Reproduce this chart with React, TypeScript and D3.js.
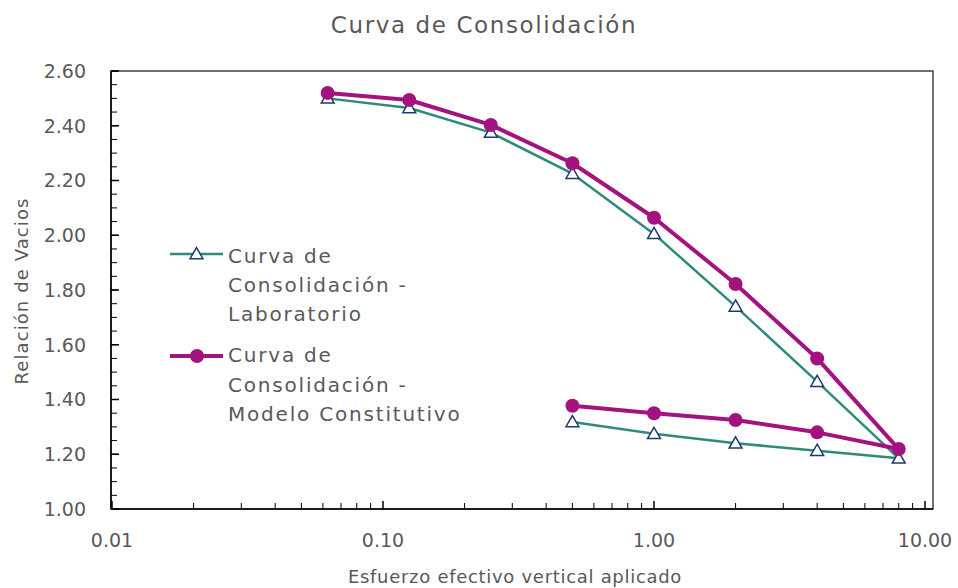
import React from 'react';
import * as d3 from 'd3';

const chartTitle = 'Curva de Consolidación';
const xAxisTitle = 'Esfuerzo efectivo vertical aplicado';
const yAxisTitle = 'Relación de Vacios';

const stressLoad = [0.0625, 0.125, 0.25, 0.5, 1, 2, 4, 8];
const stressUnload = [4, 2, 1, 0.5];
const labLoad = [2.5, 2.465, 2.375, 2.225, 2.005, 1.74, 1.465, 1.185];
const labUnload = [1.213, 1.24, 1.275, 1.318];
const modelLoad = [2.52, 2.494, 2.403, 2.263, 2.064, 1.822, 1.55, 1.219];
const modelUnload = [1.28, 1.325, 1.35, 1.377];

const xTickValues = [0.01, 0.1, 1, 10];
const yTickValues = [1.0, 1.2, 1.4, 1.6, 1.8, 2.0, 2.2, 2.4, 2.6];
const labLegend = ['Curva de', 'Consolidación -', 'Laboratorio'];
const modelLegend = ['Curva de', 'Consolidación -', 'Modelo Constitutivo'];

const W = 958;
const H = 588;
const left = 111;
const right = 933;
const top = 71;
const bottom = 509;

const TEAL = '#2E8B7B';
const MAGENTA = '#A4127F';
const NAVY = '#1F3A6E';
const TEXT = '#595959';
const FONT = '"DejaVu Sans", sans-serif';

export default function App() {
  const x = d3.scaleLog().domain([0.01, 10]).range([112, 925]);
  const y = d3.scaleLinear().domain([1.0, 2.6]).range([bottom, top]);

  const labPts = [
    ...stressLoad.map((s, i) => [s, labLoad[i]]),
    ...stressUnload.map((s, i) => [s, labUnload[i]]),
  ] as [number, number][];
  const modelPts = [
    ...stressLoad.map((s, i) => [s, modelLoad[i]]),
    ...stressUnload.map((s, i) => [s, modelUnload[i]]),
  ] as [number, number][];

  const line = d3
    .line<[number, number]>()
    .x((d) => x(d[0]))
    .y((d) => y(d[1]));

  const tri = d3.symbol().type(d3.symbolTriangle).size(72)();

  const xMinor: number[] = [];
  for (let dec = 0.01; dec < 10; dec *= 10) {
    for (let k = 2; k <= 9; k++) xMinor.push(+(dec * k).toPrecision(3));
  }
  const yMinor = d3.range(1.0, 2.6001, 0.05);

  return (
    <svg
      width={W}
      height={H}
      style={{ position: 'absolute', left: 0, top: 0, background: '#fff' }}
      fontFamily={FONT}
    >
      <rect x={0} y={0} width={W} height={H} fill="#fff" />
      <text x={484} y={33} textAnchor="middle" fontSize={23} fill={TEXT} letterSpacing={1.6}>
        {chartTitle}
      </text>

      <rect x={left} y={top} width={right - left} height={bottom - top} fill="none" stroke="#404040" strokeWidth={1.5} />

      {yMinor.map((v, i) => (
        <line key={'ym' + i} x1={left} x2={left + 6} y1={y(v)} y2={y(v)} stroke="#000" strokeWidth={1} />
      ))}
      {yTickValues.map((v) => (
        <g key={'yt' + v}>
          <line x1={left} x2={left + 8} y1={y(v)} y2={y(v)} stroke="#000" strokeWidth={1.5} />
          <text x={86} y={y(v)} dy="0.36em" textAnchor="end" fontSize={19} fill={TEXT}>
            {v.toFixed(2)}
          </text>
        </g>
      ))}

      {xMinor.map((v, i) => (
        <line key={'xm' + i} x1={x(v)} x2={x(v)} y1={bottom} y2={bottom - 6} stroke="#000" strokeWidth={1} />
      ))}
      {xTickValues.map((v) => (
        <g key={'xt' + v}>
          <line x1={x(v)} x2={x(v)} y1={bottom} y2={bottom - 8} stroke="#000" strokeWidth={1.5} />
          <text x={x(v)} y={547} textAnchor="middle" fontSize={19} fill={TEXT}>
            {v === 0.01 ? '0.01' : v.toFixed(2)}
          </text>
        </g>
      ))}

      <line x1={left} x2={left} y1={top} y2={bottom} stroke="#000" strokeWidth={1.5} />
      <line x1={left} x2={right} y1={bottom} y2={bottom} stroke="#000" strokeWidth={1.5} />

      <text x={515} y={583} textAnchor="middle" fontSize={18} fill={TEXT} letterSpacing={0.7}>
        {xAxisTitle}
      </text>
      <text
        transform={`translate(28,291) rotate(-90)`}
        textAnchor="middle"
        fontSize={18}
        fill={TEXT}
        letterSpacing={1.1}
      >
        {yAxisTitle}
      </text>

      <path d={line(labPts) || ''} fill="none" stroke={TEAL} strokeWidth={2.5} strokeLinejoin="round" />
      {labPts.map((d, i) => (
        <path
          key={'lp' + i}
          d={tri || ''}
          transform={`translate(${x(d[0])},${y(d[1]) + 1})`}
          fill="#fff"
          stroke={NAVY}
          strokeWidth={1.5}
        />
      ))}

      <path d={line(modelPts) || ''} fill="none" stroke={MAGENTA} strokeWidth={4} strokeLinejoin="round" />
      {modelPts.map((d, i) => (
        <circle key={'mp' + i} cx={x(d[0])} cy={y(d[1])} r={7} fill={MAGENTA} />
      ))}

      <line x1={170} x2={223} y1={254} y2={254} stroke={TEAL} strokeWidth={2.5} />
      <path d={tri || ''} transform="translate(196.5,255)" fill="#fff" stroke={NAVY} strokeWidth={1.5} />
      {labLegend.map((t, i) => (
        <text key={'ll' + i} x={228} y={263 + i * 29} fontSize={20} fill={TEXT} letterSpacing={1.8}>
          {t}
        </text>
      ))}
      <line x1={170} x2={223} y1={356} y2={356} stroke={MAGENTA} strokeWidth={4} />
      <circle cx={197} cy={356} r={7} fill={MAGENTA} />
      {modelLegend.map((t, i) => (
        <text key={'ml' + i} x={228} y={362 + i * 29.5} fontSize={20} fill={TEXT} letterSpacing={1.8}>
          {t}
        </text>
      ))}
    </svg>
  );
}
